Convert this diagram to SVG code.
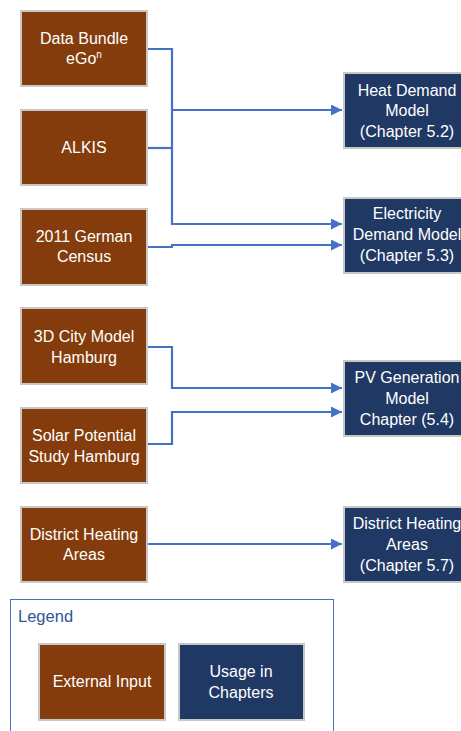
<svg xmlns="http://www.w3.org/2000/svg" width="461" height="731" viewBox="0 0 461 731">
<defs>
<style>
.ext{fill:#843C0C;stroke:#C8C8C8;stroke-width:2}
.use{fill:#1F3864;stroke:#C8C8C8;stroke-width:2}
.t{font-family:"Liberation Sans",Arial,sans-serif;font-size:16px;fill:#FFFFFF;text-anchor:middle}
.c{fill:none;stroke:#4472C4;stroke-width:2.2}
</style>
<marker id="ah" markerUnits="userSpaceOnUse" markerWidth="11" markerHeight="11" viewBox="0 0 10 10" refX="10" refY="5" orient="auto">
<path d="M0,0 L10,5 L0,10 Z" fill="#4472C4"/>
</marker>
</defs>
<rect width="461" height="731" fill="#FFFFFF"/>
<g id="connectors">
<path class="c" d="M148,49 H172 V224 H342" marker-end="url(#ah)"/>
<path class="c" d="M172,110 H342" marker-end="url(#ah)"/>
<path class="c" d="M148,148 H172"/>
<path class="c" d="M148,247 H172 V245 H342" marker-end="url(#ah)"/>
<path class="c" d="M148,347 H172 V388 H342" marker-end="url(#ah)"/>
<path class="c" d="M148,444 H172 V412 H342" marker-end="url(#ah)"/>
<path class="c" d="M148,544 H342" marker-end="url(#ah)"/>
</g>
<g id="data-bundle">
<rect class="ext" x="21" y="11" width="126" height="75"/>
<text class="t" x="84" y="44">Data Bundle</text>
<text class="t" x="84" y="64">eGo<tspan font-size="10" dy="-6">n</tspan></text>
</g>
<g id="alkis">
<rect class="ext" x="21" y="110" width="126" height="75"/>
<text class="t" x="84" y="153">ALKIS</text>
</g>
<g id="census">
<rect class="ext" x="21" y="209" width="126" height="76"/>
<text class="t" x="84" y="242">2011 German</text>
<text class="t" x="84" y="262">Census</text>
</g>
<g id="city-model">
<rect class="ext" x="21" y="308" width="126" height="76"/>
<text class="t" x="84" y="342">3D City Model</text>
<text class="t" x="84" y="363">Hamburg</text>
</g>
<g id="solar">
<rect class="ext" x="21" y="408" width="126" height="75"/>
<text class="t" x="84" y="441">Solar Potential</text>
<text class="t" x="84" y="462">Study Hamburg</text>
</g>
<g id="dh-input">
<rect class="ext" x="21" y="507" width="126" height="75"/>
<text class="t" x="84" y="540">District Heating</text>
<text class="t" x="84" y="560">Areas</text>
</g>
<g id="heat-demand">
<rect class="use" x="344" y="73" width="128" height="75"/>
<text class="t" x="407" y="96">Heat Demand</text>
<text class="t" x="407" y="116">Model</text>
<text class="t" x="407" y="137">(Chapter 5.2)</text>
</g>
<g id="electricity-demand">
<rect class="use" x="344" y="198" width="128" height="75"/>
<text class="t" x="407" y="219">Electricity</text>
<text class="t" x="407" y="240">Demand Model</text>
<text class="t" x="407" y="261">(Chapter 5.3)</text>
</g>
<g id="pv-generation">
<rect class="use" x="344" y="361" width="128" height="75"/>
<text class="t" x="407" y="383">PV Generation</text>
<text class="t" x="407" y="404">Model</text>
<text class="t" x="407" y="425">Chapter (5.4)</text>
</g>
<g id="dh-areas">
<rect class="use" x="344" y="507" width="128" height="75"/>
<text class="t" x="407" y="529">District Heating</text>
<text class="t" x="407" y="550">Areas</text>
<text class="t" x="407" y="571">(Chapter 5.7)</text>
</g>
<g id="legend">
<rect x="10.5" y="599.5" width="323" height="150" fill="none" stroke="#4472C4" stroke-width="1"/>
<text x="18" y="622" font-family="'Liberation Sans',Arial,sans-serif" font-size="16.5" fill="#2F5597">Legend</text>
<g id="legend-external">
<rect class="ext" x="39" y="644" width="126" height="76"/>
<text class="t" x="102" y="687">External Input</text>
</g>
<g id="legend-usage">
<rect class="use" x="179" y="644" width="125" height="76"/>
<text class="t" x="241" y="677">Usage in</text>
<text class="t" x="241" y="698">Chapters</text>
</g>
</g>
</svg>
